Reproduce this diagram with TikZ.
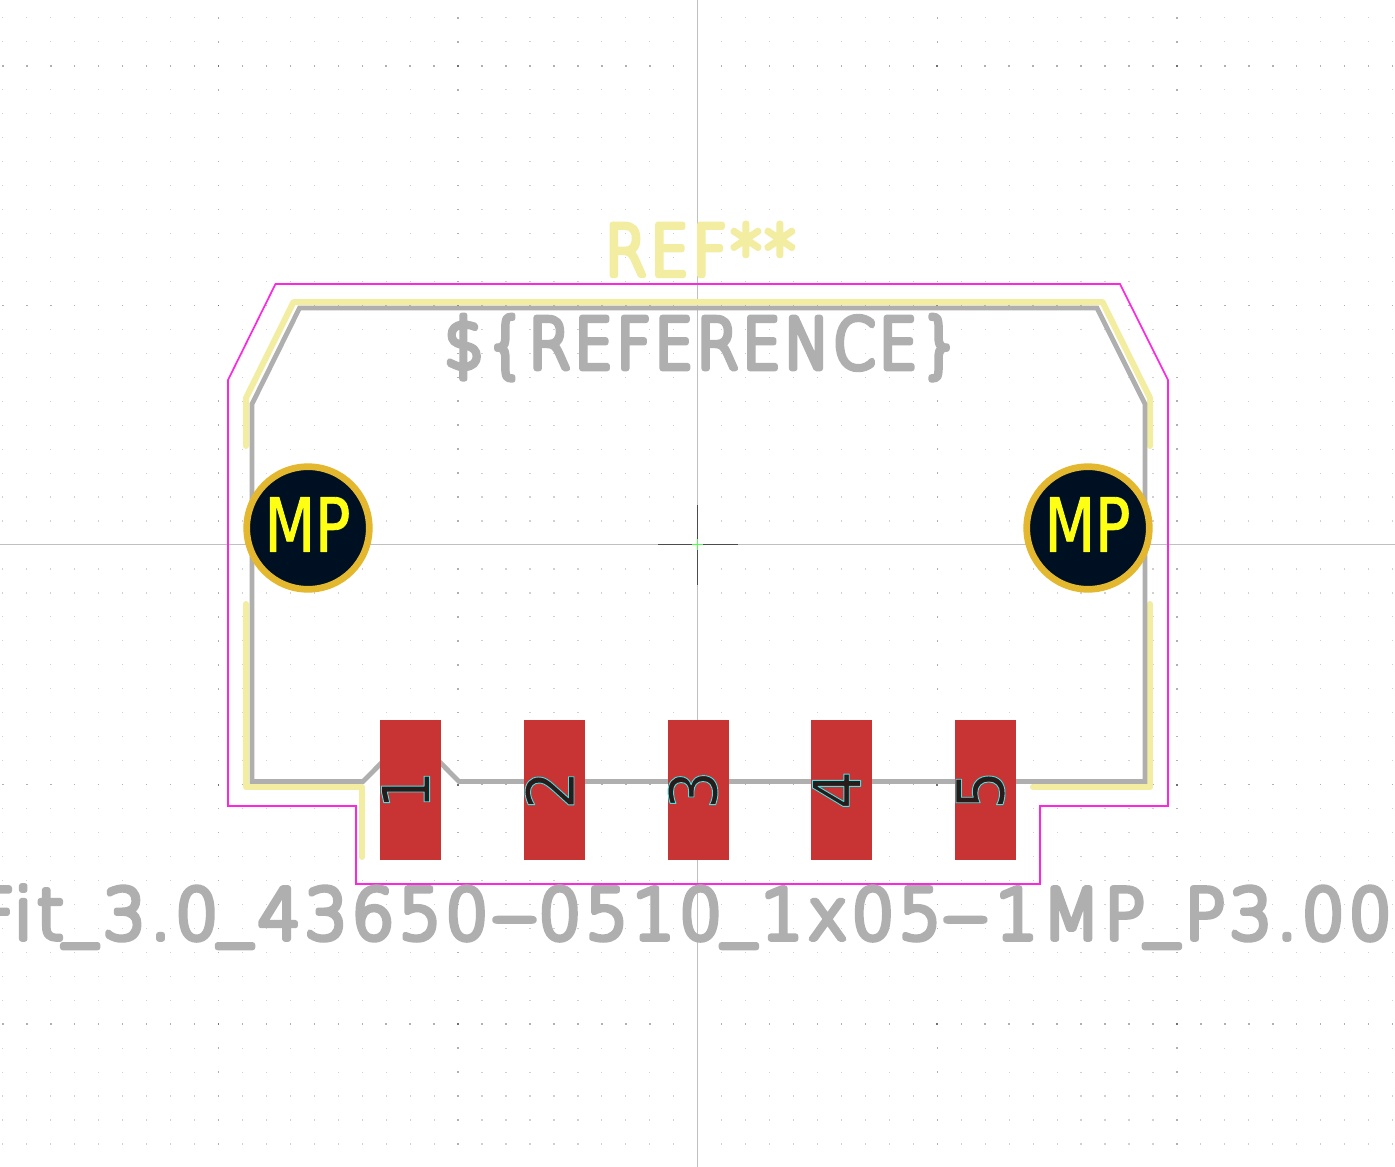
\documentclass[tikz,border=0pt]{standalone}
\usepackage{fontspec}
\newfontfamily\kfont[LetterSpace=5.5,FakeStretch=0.86]{DejaVu Sans ExtraLight}
\newfontfamily\kvfont[LetterSpace=6,FakeStretch=0.96]{DejaVu Sans ExtraLight}
\newfontfamily\mpfont[FakeStretch=0.78]{DejaVu Sans}
\newfontfamily\numfont[FakeStretch=0.92]{DejaVu Sans}
\definecolor{court}{HTML}{FF26E2}
\definecolor{fab}{HTML}{AFAFAF}
\definecolor{silk}{HTML}{F2EDA1}
\definecolor{padred}{HTML}{C83434}
\definecolor{hole}{HTML}{001023}
\definecolor{ring}{HTML}{E3B72E}
\definecolor{axisc}{HTML}{C0C0C0}
\definecolor{griddot}{HTML}{D0D0D0}
\definecolor{gridmid}{HTML}{B0B0B0}
\definecolor{griddark}{HTML}{707070}
\definecolor{numdark}{HTML}{2A1A1A}
\definecolor{mpyellow}{HTML}{FFFF14}
\tikzset{
 x=1pt,y=-1pt,
 courtline/.style={draw=court,line width=1.7pt},
 fabline/.style={draw=fab,line width=4.8pt,line join=miter},
 silkline/.style={draw=silk,line width=6pt,line cap=round,line join=round},
 pad/.style={fill=padred,draw=none,minimum width=61pt,minimum height=140pt,inner sep=0pt},
 holecirc/.style={circle,fill=hole,draw=ring,line width=6.7pt,minimum size=122.6pt,inner sep=0pt,outer sep=0pt},
 axisline/.style={draw=axisc,line width=1pt},
 origin/.style={draw=black!70,line width=1pt},
 strokelabel/.style={inner sep=0pt,anchor=base},
}
% font, size, fill colour, stroke rgb, stroke width, text
\newcommand{\strk}[6]{\begingroup\fontsize{#2}{#2}\selectfont#1\color{#3}\special{pdf:literal direct 1 j 1 J #4 RG #5 w 2 Tr}#6\special{pdf:literal direct 0 Tr}\endgroup}
\newcommand{\us}{\raisebox{8pt}{\_}\kern6pt }
\newcommand{\wh}{\scalebox{1.9}[1]{-}}
\begin{document}
\begin{tikzpicture}
\useasboundingbox (0,0) rectangle (1395,1167);
\clip (0,0) rectangle (1395,1167);
\fill[white] (0,0) rectangle (1395,1167);
% grid
\foreach \i in {-29,...,29}{\foreach \j in {-22,...,26}{
  \pgfmathtruncatemacro{\mi}{mod(abs(\i),10)==0 ? 1 : 0}
  \pgfmathtruncatemacro{\mj}{mod(abs(\j),10)==0 ? 1 : 0}
  \pgfmathtruncatemacro{\skipit}{(\i==0 || \j==0) ? 1 : 0}
  \ifnum\skipit=0
  \ifnum\numexpr\mi+\mj\relax=2
    \fill[griddark] ({697.7+23.96*\i-0.9},{545+23.96*\j-0.9}) rectangle +(1.8,1.8);
  \else\ifnum\numexpr\mi+\mj\relax=1
    \fill[gridmid] ({697.7+23.96*\i-0.75},{545+23.96*\j-0.75}) rectangle +(1.5,1.5);
  \else
    \fill[griddot] ({697.7+23.96*\i-0.6},{545+23.96*\j-0.6}) rectangle +(1.2,1.2);
  \fi\fi
  \fi
}}
% axes
\coordinate (axL) at (0,544.5); \coordinate (axR) at (1395,544.5);
\coordinate (axT) at (697.5,0); \coordinate (axB) at (697.5,1167);
\draw[axisline] (axL) -- (axR);
\draw[axisline] (axT) -- (axB);
% courtyard
\draw[courtline] (275.5,284) -- (1120,284) -- (1168,380) -- (1168,806) -- (1040,806) -- (1040,884) -- (356,884) -- (356,806) -- (228,806) -- (228,380) -- cycle;
% silk text
\node[strokelabel] (ref) at (700,275.4) {\strk{\kfont}{70}{silk}{0.949 0.929 0.631}{5.5}{REF**}};
% silk
\draw[silkline] (246,446) -- (246,398) -- (293.5,302) -- (1102.5,302) -- (1150,398) -- (1150,446);
\draw[silkline] (246,604) -- (246,787) -- (362,787) -- (362,857);
\draw[silkline] (1150,604) -- (1150,787) -- (1033,787);
% fab
\draw[fabline] (299.5,308) -- (1097,308) -- (1145,404) -- (1145,781.5) -- (459,781.5) -- (411,733) -- (363,781.5) -- (252,781.5) -- (252,404) -- cycle;
% fab text
\node[strokelabel] (refb) at (702,368.5) {\strk{\kfont}{70}{fab}{0.686 0.686 0.686}{5.5}{\$\{REFERENCE\}}};
\node[strokelabel,anchor=base west] (val) at (-24,939) {\strk{\kvfont}{70}{fab}{0.686 0.686 0.686}{5.5}{Fit\us 3.0\us 43650\kern3pt\wh\kern1pt 0510\us\kern-1pt 1x05\kern1pt\wh\kern7pt 1MP\us P3.00m}};
% pads
\foreach \n/\x in {1/410.5,2/554.5,3/698,4/841.5,5/985.5}{
  \node[pad] (pad\n) at (\x,790) {};
  \node[inner sep=0pt,rotate=90] (num\n) at (\x-5,790) {\strk{\numfont}{66}{numdark}{0.25 0.9 0.9}{0.9}{\n}};
}
% mounting pads
\node[holecirc] (mpL) at (308,528) {};
\node[holecirc] (mpR) at (1088,528) {};
\node[inner sep=0pt] (mpLt) at (307.5,524.5) {\strk{\mpfont}{75}{mpyellow}{1 1 0.08}{0.8}{MP}};
\node[inner sep=0pt] (mpRt) at (1087.5,524.5) {\strk{\mpfont}{75}{mpyellow}{1 1 0.08}{0.8}{MP}};
% origin
\coordinate (o) at (697.5,544.5);
\draw[origin] (658,544.5) -- (692,544.5) (703,544.5) -- (738,544.5) (697.5,505) -- (697.5,539) (697.5,550) -- (697.5,585);
\draw[green!70!white,line width=1.2pt] (692,544.5) -- (703,544.5) (697.5,539) -- (697.5,550);
\end{tikzpicture}
\end{document}
